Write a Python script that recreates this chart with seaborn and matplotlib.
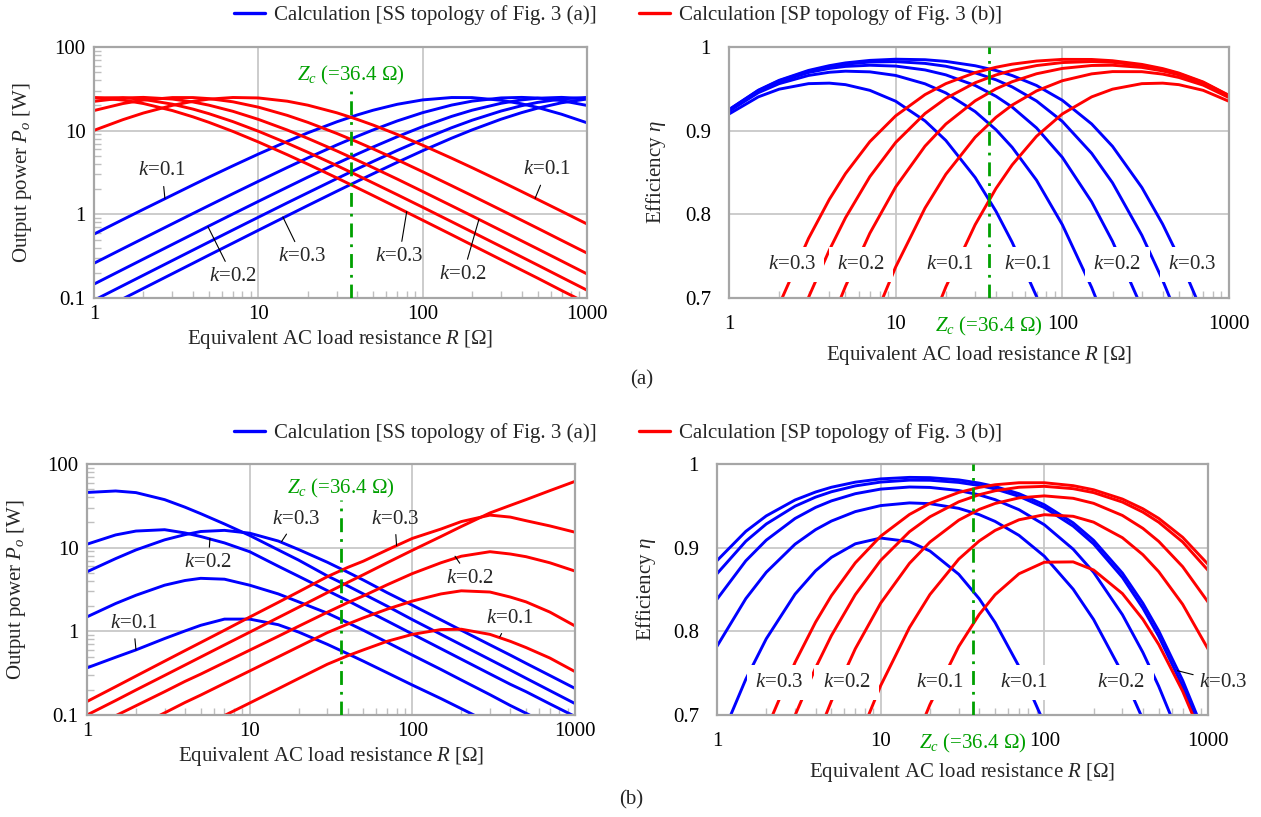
import numpy as np
import pandas as pd
import seaborn as sns
import matplotlib.pyplot as plt
from matplotlib.lines import Line2D

sns.set_theme(style='white')
plt.rcParams['font.family'] = ['Liberation Serif', 'DejaVu Serif']
plt.rcParams['mathtext.fontset'] = 'custom'
plt.rcParams['mathtext.rm'] = 'Liberation Serif'
plt.rcParams['mathtext.it'] = 'Liberation Serif:italic'
plt.rcParams['mathtext.bf'] = 'Liberation Serif:bold'

BLUE = '#0000ff'
RED = '#ff0000'
GREEN = '#00a000'
nan = np.nan

k_values = [0.1, 0.15, 0.2, 0.25, 0.3]
zc = 36.4

# load resistance samples (ohm), shared by all panels
r_vals = [1, 1.5, 2, 3, 4, 5, 7, 10, 15, 20, 30, 40, 50, 70, 100, 150, 200, 300, 400, 500, 700, 1000]

# (a) output power [W], one row per k
pa_ss = [
    [0.58, 0.867, 1.149, 1.70, 2.246, 2.78, 3.80, 5.25, 7.45, 9.42, 12.75, 15.42, 17.56, 20.66, 23.32, 24.90, 24.84, 23.09, 20.93, 18.94, 15.72, 12.42],
    [0.260, 0.389, 0.517, 0.771, 1.023, 1.272, 1.763, 2.48, 3.63, 4.72, 6.74, 8.56, 10.21, 13.07, 16.42, 20.22, 22.54, 24.63, 24.99, 24.56, 22.86, 20.02],
    [0.1466, 0.2196, 0.2924, 0.437, 0.581, 0.725, 1.009, 1.428, 2.11, 2.78, 4.05, 5.25, 6.38, 8.46, 11.18, 14.81, 17.56, 21.24, 23.32, 24.42, 25.0, 24.09],
    [0.0939, 0.1407, 0.1874, 0.2806, 0.3735, 0.466, 0.650, 0.923, 1.372, 1.81, 2.67, 3.495, 4.29, 5.80, 7.86, 10.84, 13.33, 17.17, 19.87, 21.76, 23.94, 24.98],
    [0.0653, 0.0979, 0.1304, 0.1953, 0.260, 0.325, 0.453, 0.645, 0.961, 1.274, 1.886, 2.483, 3.06, 4.18, 5.76, 8.13, 10.22, 13.71, 16.43, 18.56, 21.54, 23.90],
]
pa_sp = [
    [10.08, 13.54, 16.26, 20.07, 22.42, 23.81, 24.92, 24.61, 22.50, 20.17, 16.36, 13.64, 11.66, 9.01, 6.70, 4.69, 3.61, 2.47, 1.874, 1.51, 1.089, 0.767],
    [17.40, 21.09, 23.21, 24.87, 24.87, 24.17, 22.14, 19.10, 15.23, 12.57, 9.27, 7.33, 6.05, 4.49, 3.23, 2.20, 1.67, 1.127, 0.850, 0.683, 0.489, 0.344],
    [22.41, 24.58, 24.99, 23.87, 22.03, 20.18, 17.04, 13.65, 10.18, 8.09, 5.73, 4.43, 3.61, 2.64, 1.875, 1.266, 0.956, 0.641, 0.4825, 0.387, 0.277, 0.194],
    [24.70, 24.79, 23.65, 20.73, 18.11, 15.97, 12.83, 9.85, 7.08, 5.52, 3.83, 2.93, 2.37, 1.718, 1.216, 0.817, 0.615, 0.412, 0.3096, 0.248, 0.177, 0.124],
    [24.87, 23.21, 21.09, 17.38, 14.63, 12.58, 9.80, 7.33, 5.16, 3.98, 2.73, 2.074, 1.674, 1.207, 0.851, 0.571, 0.429, 0.287, 0.2156, 0.173, 0.123, 0.0865],
]

# (a) efficiency
ea_ss = [
    [0.9199, 0.9404, 0.9496, 0.9562, 0.9568, 0.9550, 0.9482, 0.9352, 0.9117, 0.8883, 0.8440, 0.8036, 0.7666, 0.7019, 0.6228, nan, nan, nan, nan, nan, nan, nan],
    [0.9232, 0.9454, 0.9562, 0.9660, 0.9698, 0.9711, 0.9703, 0.9660, 0.9560, 0.9451, 0.9228, 0.9011, 0.8801, 0.8408, 0.7876, 0.7125, 0.6504, nan, nan, nan, nan, nan],
    [0.9244, 0.9471, 0.9585, 0.9695, 0.9744, 0.9768, 0.9782, 0.9772, 0.9726, 0.9667, 0.9540, 0.9411, 0.9282, 0.9033, 0.8681, 0.8149, 0.7677, 0.6881, nan, nan, nan, nan],
    [0.9249, 0.9480, 0.9596, 0.9711, 0.9765, 0.9795, 0.9820, 0.9825, 0.9804, 0.9770, 0.9691, 0.9608, 0.9523, 0.9355, 0.9111, 0.8729, 0.8377, 0.7750, 0.7211, 0.6741, nan, nan],
    [0.9252, 0.9484, 0.9602, 0.9720, 0.9777, 0.9810, 0.9840, 0.9854, 0.9848, 0.9828, 0.9776, 0.9719, 0.9659, 0.9540, 0.9363, 0.9080, 0.8813, 0.8321, 0.7882, 0.7486, 0.6803, nan],
]
ea_sp = [
    [nan, nan, nan, nan, nan, nan, nan, nan, 0.6514, 0.7132, 0.7877, 0.8310, 0.8591, 0.8933, 0.9200, 0.9404, 0.9496, 0.9562, 0.9568, 0.9550, 0.9482, 0.9351],
    [nan, nan, nan, nan, nan, nan, 0.6628, 0.7371, 0.8075, 0.8479, 0.8922, 0.9160, 0.9306, 0.9475, 0.9597, 0.9679, 0.9706, 0.9705, 0.9676, 0.9636, 0.9544, 0.9395],
    [nan, nan, nan, nan, 0.6665, 0.7140, 0.7774, 0.8327, 0.8815, 0.9079, 0.9357, 0.9500, 0.9585, 0.9680, 0.9744, 0.9779, 0.9782, 0.9756, 0.9714, 0.9667, 0.9566, 0.9411],
    [nan, nan, 0.6096, 0.7007, 0.7573, 0.7959, 0.8450, 0.8859, 0.9205, 0.9386, 0.9573, 0.9666, 0.9720, 0.9778, 0.9814, 0.9826, 0.9817, 0.9780, 0.9732, 0.9681, 0.9576, 0.9418],
    [nan, 0.6277, 0.6921, 0.7712, 0.8179, 0.8487, 0.8869, 0.9177, 0.9431, 0.9562, 0.9694, 0.9758, 0.9795, 0.9832, 0.9852, 0.9851, 0.9836, 0.9792, 0.9742, 0.9689, 0.9582, 0.9422],
]

# (b) output power [W]
pb_ss = [
    [0.366, 0.49, 0.60, 0.82, 1.01, 1.18, 1.40, 1.40, 1.2, 0.98, 0.70, 0.54, 0.44, 0.32, 0.228, 0.157, 0.119, 0.08, nan, nan, nan, nan],
    [1.49, 2.15, 2.7, 3.56, 4.05, 4.3, 4.2, 3.56, 2.8, 2.25, 1.65, 1.27, 1.03, 0.74, 0.52, 0.35, 0.262, 0.175, 0.13, 0.105, 0.075, nan],
    [11.0, 14.2, 15.8, 16.4, 15.0, 13.6, 11.4, 8.95, 6.0, 4.55, 3.07, 2.33, 1.86, 1.33, 0.93, 0.62, 0.465, 0.31, 0.233, 0.19, 0.136, 0.096],
    [45.7, 47.6, 45.5, 37.5, 30.5, 25.5, 19.2, 14.0, 9.4, 7.1, 4.6, 3.5, 2.8, 2.0, 1.38, 0.92, 0.69, 0.46, 0.345, 0.275, 0.196, 0.137],
    [5.15, 7.4, 9.4, 12.4, 14.3, 15.6, 16.1, 14.9, 12.0, 9.5, 6.7, 5.1, 4.1, 2.9, 2.05, 1.37, 1.03, 0.69, 0.52, 0.415, 0.297, 0.208],
]
pb_sp = [
    [nan, nan, nan, nan, nan, 0.071, 0.0986, 0.139, 0.206, 0.273, 0.404, 0.51, 0.60, 0.76, 0.92, 1.05, 1.06, 0.92, 0.76, 0.64, 0.48, 0.33],
    [nan, nan, 0.0717, 0.106, 0.141, 0.173, 0.239, 0.336, 0.496, 0.654, 0.965, 1.22, 1.45, 1.84, 2.3, 2.8, 3.05, 2.95, 2.57, 2.25, 1.7, 1.16],
    [0.0668, 0.098, 0.129, 0.19, 0.252, 0.308, 0.424, 0.595, 0.873, 1.15, 1.69, 2.2, 2.65, 3.6, 4.9, 6.6, 7.9, 8.95, 8.4, 7.8, 6.6, 5.25],
    [0.1, 0.149, 0.199, 0.297, 0.395, 0.493, 0.688, 0.977, 1.46, 1.94, 2.9, 3.84, 4.75, 6.6, 9.3, 13.6, 17.9, 26.0, 32.0, 37.5, 48.0, 62.0],
    [0.145, 0.218, 0.292, 0.44, 0.588, 0.735, 1.03, 1.48, 2.22, 2.97, 4.5, 5.8, 6.9, 9.4, 12.9, 16.7, 20.5, 24.5, 23.2, 21.0, 18.2, 15.3],
]

# (b) efficiency
eb_ss = [
    [0.6611, 0.7428, 0.7911, 0.8445, 0.8723, 0.8884, 0.9046, 0.9115, 0.9072, 0.8960, 0.8682, 0.8390, 0.8106, 0.7580, 0.6898, nan, nan, nan, nan, nan, nan, nan],
    [0.7822, 0.8391, 0.8706, 0.9042, 0.9215, 0.9318, 0.9431, 0.9503, 0.9535, 0.9526, 0.9470, 0.9395, 0.9314, 0.9147, 0.8898, 0.8504, 0.8141, 0.7498, 0.6948, nan, nan, nan],
    [0.8384, 0.8843, 0.9090, 0.9349, 0.9481, 0.9559, 0.9645, 0.9700, 0.9725, 0.9720, 0.9683, 0.9631, 0.9574, 0.9454, 0.9274, 0.8982, 0.8706, 0.8199, 0.7748, 0.7343, 0.6647, nan],
    [0.8689, 0.9077, 0.9283, 0.9496, 0.9604, 0.9668, 0.9738, 0.9784, 0.9807, 0.9806, 0.9780, 0.9743, 0.9702, 0.9614, 0.9479, 0.9258, 0.9045, 0.8645, 0.8278, 0.7941, 0.7342, 0.6596],
    [0.8845, 0.9195, 0.9380, 0.9570, 0.9665, 0.9722, 0.9783, 0.9822, 0.9840, 0.9837, 0.9810, 0.9772, 0.9731, 0.9645, 0.9513, 0.9297, 0.9088, 0.8696, 0.8336, 0.8005, 0.7414, 0.6676],
]
eb_sp = [
    [nan, nan, nan, nan, nan, nan, nan, nan, 0.6532, 0.7124, 0.7819, 0.8202, 0.8437, 0.8688, 0.8826, 0.8830, 0.8733, 0.8451, 0.8144, 0.7843, 0.7284, 0.6567],
    [nan, nan, nan, nan, nan, nan, 0.6612, 0.7351, 0.8046, 0.8440, 0.8863, 0.9080, 0.9206, 0.9333, 0.9394, 0.9375, 0.9305, 0.9119, 0.8916, 0.8713, 0.8323, 0.7790],
    [nan, nan, nan, nan, 0.6694, 0.7166, 0.7792, 0.8337, 0.8813, 0.9067, 0.9329, 0.9457, 0.9528, 0.9595, 0.9619, 0.9590, 0.9530, 0.9385, 0.9231, 0.9075, 0.8773, 0.8351],
    [nan, nan, 0.6083, 0.6997, 0.7563, 0.7949, 0.8439, 0.8848, 0.9191, 0.9369, 0.9548, 0.9633, 0.9680, 0.9722, 0.9733, 0.9705, 0.9658, 0.9545, 0.9425, 0.9304, 0.9068, 0.8730],
    [nan, nan, 0.6824, 0.7630, 0.8109, 0.8426, 0.8819, 0.9137, 0.9397, 0.9530, 0.9660, 0.9720, 0.9752, 0.9776, 0.9776, 0.9741, 0.9692, 0.9581, 0.9465, 0.9350, 0.9124, 0.8802],
]

LEG_SS = 'Calculation [SS topology of Fig. 3 (a)]'
LEG_SP = 'Calculation [SP topology of Fig. 3 (b)]'
FS = 15


def draw_curves(ax, ss, sp):
    rows = []
    for topo, curves in (('SS', ss), ('SP', sp)):
        for k, vals in zip(k_values, curves):
            for x, y in zip(r_vals, vals):
                rows.append((topo, k, x, y))
    df = pd.DataFrame(rows, columns=['topology', 'k', 'R', 'value']).dropna()
    sns.lineplot(data=df, x='R', y='value', hue='topology', units='k', estimator=None,
                 hue_order=['SS', 'SP'], palette={'SS': BLUE, 'SP': RED},
                 lw=2.1, legend=False, sort=False, ax=ax)


def style_axes(ax, power):
    ax.set_xscale('log')
    ax.set_xlim(1, 1000)
    ax.set_xticks([1, 10, 100, 1000])
    ax.set_xticklabels(['1', '10', '100', '1000'])
    if power:
        ax.set_yscale('log')
        ax.set_ylim(0.1, 100)
        ax.set_yticks([0.1, 1, 10, 100])
        ax.set_yticklabels(['0.1', '1', '10', '100'])
        ax.set_ylabel('Output power $P_o$ [W]', fontsize=FS, va='center')
        xpad, ypad, xlab_y = 5, 6, -0.167
    else:
        ax.set_ylim(0.7, 1.0)
        ax.set_yticks([0.7, 0.8, 0.9, 1.0])
        ax.set_yticklabels(['0.7', '0.8', '0.9', '1'])
        ax.set_ylabel('Efficiency $\\eta$', fontsize=FS, va='center')
        xpad, ypad, xlab_y = 12, 13, -0.231
    ax.set_xlabel('Equivalent AC load resistance $R$ [\u03a9]', fontsize=FS, va='center')
    ax.xaxis.set_label_coords(0.5, xlab_y)
    ax.yaxis.set_label_coords(-0.145, 0.5)
    ax.set_axisbelow(True)
    ax.grid(True, which='major', color='#c8c8c8', lw=1.3)
    ax.grid(False, which='minor')
    ax.tick_params(which='major', length=0, labelsize=FS, colors='black')
    ax.tick_params(axis='x', which='major', pad=xpad)
    ax.tick_params(axis='y', which='major', pad=ypad)
    ax.tick_params(which='minor', direction='in', length=5, width=1, color='#bfbfbf',
                   bottom=True, left=power, top=False, right=False)
    for s in ax.spines.values():
        s.set_color('#a6a6a6')
        s.set_linewidth(1.6)


def zc_marker(ax, power, top=None, label_y=None):
    if power:
        ax.vlines(zc, 0.1, top, colors=GREEN, lw=2, linestyles=(0, (5, 2.5, 1, 2.5)), zorder=6)
        ax.text(zc, label_y, '$Z_c$ (=36.4 \u03a9)', color=GREEN, fontsize=FS, ha='center', va='center')
    else:
        ax.axvline(zc, color=GREEN, lw=2, ls=(0, (5, 2.5, 1, 2.5)), zorder=6)
        ax.annotate('$Z_c$ (=36.4 \u03a9)', xy=(zc, 0), xycoords=('data', 'axes fraction'),
                    xytext=(0, -12), textcoords='offset points', color=GREEN, fontsize=FS,
                    ha='center', va='top')


def leader_labels(ax, items):
    for txt, xy, xytext in items:
        ax.annotate(txt, xy=xy, xytext=xytext, fontsize=FS, ha='center', va='center',
                    annotation_clip=False,
                    arrowprops=dict(arrowstyle='-', color='black', lw=0.8, shrinkA=2, shrinkB=0))


def boxed_labels(ax, xs, texts, y):
    for x, t in zip(xs, texts):
        ax.text(x, y, t, fontsize=FS, ha='center', va='center', zorder=5,
                bbox=dict(boxstyle='square,pad=0.4', fc='white', ec='none'))


fig = plt.figure(figsize=(12.61, 8.17), dpi=100)
W, H = 1261, 817


def add_ax(x0, x1, y0, y1):
    return fig.add_axes([x0 / W, 1 - y1 / H, (x1 - x0) / W, (y1 - y0) / H])


ax_a1 = add_ax(94, 587, 47, 298)
ax_a2 = add_ax(729, 1229, 47, 298)
ax_b1 = add_ax(87, 575, 464, 715)
ax_b2 = add_ax(717, 1208, 464, 715)

draw_curves(ax_a1, pa_ss, pa_sp)
draw_curves(ax_a2, ea_ss, ea_sp)
draw_curves(ax_b1, pb_ss, pb_sp)
draw_curves(ax_b2, eb_ss, eb_sp)

for ax, pw in ((ax_a1, True), (ax_a2, False), (ax_b1, True), (ax_b2, False)):
    style_axes(ax, pw)

zc_marker(ax_a1, True, 32, 46)
zc_marker(ax_a2, False)
zc_marker(ax_b1, True, 37, 51.6)
zc_marker(ax_b2, False)

k1, k2, k3 = '$k$=0.1', '$k$=0.2', '$k$=0.3'

leader_labels(ax_a1, [
    (k1, (2.7, 1.55), (2.6, 3.3)),
    (k2, (4.94, 0.71), (7.0, 0.18)),
    (k3, (14.1, 0.93), (18.5, 0.31)),
    (k3, (80, 1.08), (72, 0.31)),
    (k2, (220, 0.87), (176, 0.19)),
    (k1, (483, 1.55), (570, 3.4)),
])
boxed_labels(ax_a2, [2.38, 6.2, 21.1, 62.4, 214, 604], [k3, k2, k1, k1, k2, k3], 0.74)

leader_labels(ax_b1, [
    (k1, (2.0, 0.6), (1.93, 1.25)),
    (k2, (5.7, 12.9), (5.57, 6.6)),
    (k3, (15.7, 11.8), (19.4, 22)),
    (k3, (80, 10.6), (78, 22)),
    (k2, (183, 7.9), (226, 4.3)),
    (k1, (345, 0.86), (398, 1.43)),
])
boxed_labels(ax_b2, [2.41, 6.2, 22.9, 75.5, 296], [k3, k2, k1, k1, k2], 0.739)
leader_labels(ax_b2, [(k3, (650, 0.753), (1240, 0.739))])

handles = [Line2D([], [], color=BLUE, lw=2.4), Line2D([], [], color=RED, lw=2.4)]
for yy in (1 - 15 / H, 1 - 433 / H):
    fig.legend(handles, [LEG_SS, LEG_SP], loc='center', bbox_to_anchor=(0.49, yy), ncol=2,
               frameon=False, fontsize=FS, handlelength=1.5, columnspacing=2.0,
               handletextpad=0.45, borderpad=0.1)

fig.text(642 / W, 1 - 380 / H, '(a)', ha='center', va='center', fontsize=FS)
fig.text(631 / W, 1 - 800 / H, '(b)', ha='center', va='center', fontsize=FS)

fig.savefig('out.png', dpi=100)
